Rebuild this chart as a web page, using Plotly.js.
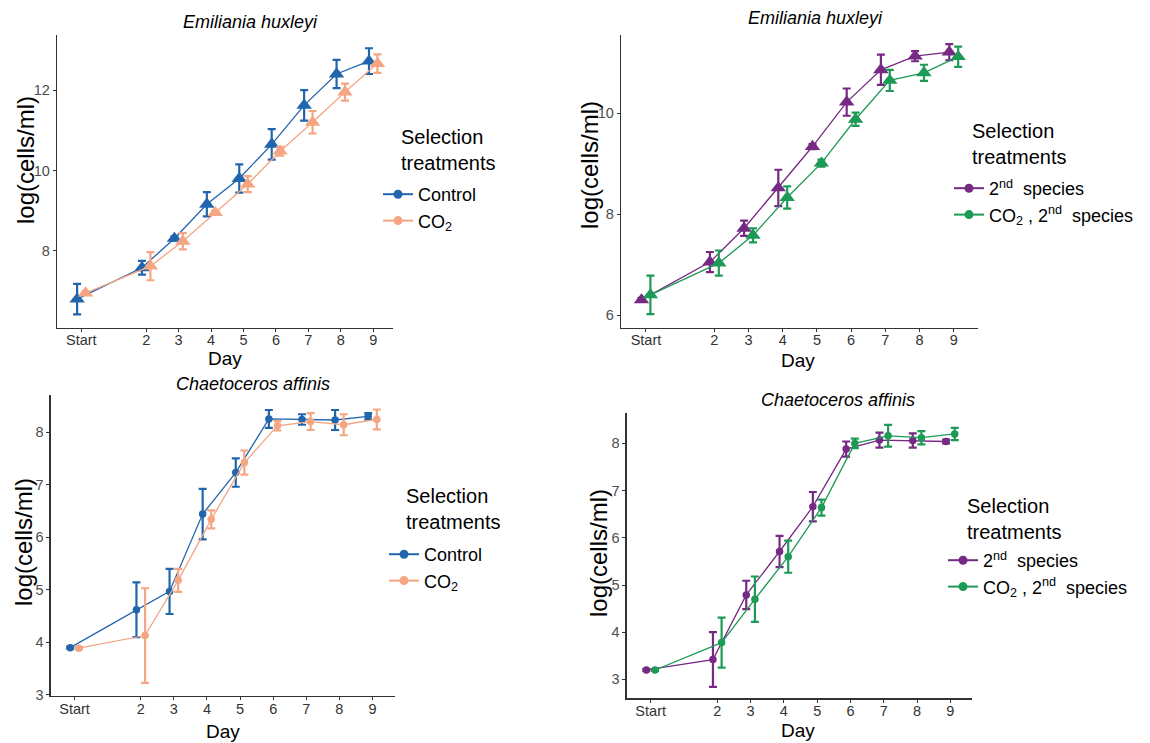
<!DOCTYPE html>
<html>
<head>
<meta charset="utf-8">
<script src="https://cdn.plot.ly/plotly-3.0.1.min.js"></script>
<style>html,body{margin:0;padding:0;background:#fff;}#chart{width:1150px;height:743px;}</style>
</head>
<body>
<div id="chart"></div>
<script>
// ---- data ----
const days = [0, 2, 3, 4, 5, 6, 7, 8, 9];
const dayTickText = ['Start', '2', '3', '4', '5', '6', '7', '8', '9'];

// Emiliania huxleyi, left panel
const ehControl    = [6.80, 7.58, 8.31, 9.16, 9.80, 10.65, 11.62, 12.40, 12.72];
const ehControlErr = [0.38, 0.17, 0.05, 0.30, 0.35, 0.38, 0.38, 0.35, 0.32];
const ehCO2        = [6.95, 7.62, 8.24, 8.95, 9.66, 10.48, 11.20, 11.95, 12.66];
const ehCO2Err     = [0.04, 0.35, 0.20, 0.05, 0.20, 0.11, 0.28, 0.21, 0.23];

// Emiliania huxleyi, right panel
const eh2nd        = [6.30, 7.05, 7.72, 8.52, 9.34, 10.22, 10.86, 11.13, 11.21];
const eh2ndErr     = [0.04, 0.20, 0.15, 0.36, 0.05, 0.27, 0.30, 0.10, 0.16];
const ehCO22nd     = [6.40, 7.03, 7.58, 8.33, 9.01, 9.88, 10.65, 10.80, 11.12];
const ehCO22ndErr  = [0.38, 0.25, 0.14, 0.22, 0.07, 0.13, 0.21, 0.16, 0.20];

// Chaetoceros affinis, left panel
const caControl    = [3.90, 4.62, 4.97, 6.44, 7.23, 8.25, 8.24, 8.23, 8.30];
const caControlErr = [0.02, 0.52, 0.43, 0.48, 0.27, 0.17, 0.10, 0.19, 0.06];
const caCO2        = [3.89, 4.13, 5.18, 6.34, 7.42, 8.12, 8.20, 8.14, 8.24];
const caCO2Err     = [0.02, 0.90, 0.22, 0.17, 0.23, 0.09, 0.16, 0.20, 0.19];

// Chaetoceros affinis, right panel
const ca2nd        = [3.20, 3.42, 4.79, 5.71, 6.66, 7.88, 8.07, 8.06, 8.04];
const ca2ndErr     = [0.02, 0.58, 0.30, 0.33, 0.31, 0.16, 0.16, 0.15, 0.04];
const caCO22nd     = [3.20, 3.78, 4.70, 5.60, 6.64, 8.00, 8.16, 8.12, 8.20];
const caCO22ndErr  = [0.02, 0.53, 0.48, 0.34, 0.17, 0.10, 0.23, 0.14, 0.13];

// ---- styling ----
const BLUE = '#2166AC', ORANGE = '#F4A582', PURPLE = '#762A83', GREEN = '#1d9a56';
const FONT = 'Liberation Sans, Arial, sans-serif';
const DODGE = 0.13;
const left = days.map(d => d - DODGE);
const right = days.map(d => d + DODGE);

function series(x, y, err, color, symbol, size, xa, ya) {
  return {
    type: 'scatter', mode: 'lines+markers', x: x, y: y,
    xaxis: xa, yaxis: ya, showlegend: false, hoverinfo: 'skip',
    line: {color: color, width: 1.3},
    marker: {color: color, symbol: symbol, size: size},
    error_y: {type: 'data', array: err, visible: true, color: color, thickness: 2.2, width: 4}
  };
}
function legendEntry(name, color, legend, group) {
  return {
    type: 'scatter', mode: 'lines+markers', x: [null], y: [null],
    xaxis: 'x', yaxis: 'y', name: name, legend: legend, legendgroup: group,
    line: {color: color, width: 2},
    marker: {color: color, symbol: 'circle', size: 9}
  };
}

const data = [
  series(left,  ehControl, ehControlErr, BLUE,   'triangle-up', 13.5, 'x',  'y'),
  series(right, ehCO2,     ehCO2Err,     ORANGE, 'triangle-up', 13.5, 'x',  'y'),
  series(left,  eh2nd,     eh2ndErr,     PURPLE, 'triangle-up', 13.5, 'x2', 'y2'),
  series(right, ehCO22nd,  ehCO22ndErr,  GREEN,  'triangle-up', 13.5, 'x2', 'y2'),
  series(left,  caControl, caControlErr, BLUE,   'circle', 7.5, 'x3', 'y3'),
  series(right, caCO2,     caCO2Err,     ORANGE, 'circle', 7.5, 'x3', 'y3'),
  series(left,  ca2nd,     ca2ndErr,     PURPLE, 'circle', 7.5, 'x4', 'y4'),
  series(right, caCO22nd,  caCO22ndErr,  GREEN,  'circle', 7.5, 'x4', 'y4'),
  legendEntry('Control', BLUE, 'legend', 'a1'),
  legendEntry('CO<sub>2</sub>', ORANGE, 'legend', 'a2'),
  legendEntry('2<sup>nd</sup>&nbsp; species', PURPLE, 'legend2', 'b1'),
  legendEntry('CO<sub>2</sub> , 2<sup>nd</sup>&nbsp; species', GREEN, 'legend2', 'b2'),
  legendEntry('Control', BLUE, 'legend3', 'c1'),
  legendEntry('CO<sub>2</sub>', ORANGE, 'legend3', 'c2'),
  legendEntry('2<sup>nd</sup>&nbsp; species', PURPLE, 'legend4', 'd1'),
  legendEntry('CO<sub>2</sub> , 2<sup>nd</sup>&nbsp; species', GREEN, 'legend4', 'd2')
];

const W = 1150, H = 743;
const px = v => v / W;
const py = v => 1 - v / H;

function xAxis(domain, range, anchor) {
  return {
    domain: domain, range: range, anchor: anchor,
    tickmode: 'array', tickvals: days, ticktext: dayTickText,
    showline: true, linecolor: '#333', linewidth: 1.3,
    ticks: 'outside', ticklen: 3, tickcolor: '#333', tickwidth: 1,
    ticklabelstandoff: -4,
    showgrid: false, zeroline: false,
    tickfont: {family: FONT, size: 14.5, color: '#333'}
  };
}
function yAxis(domain, range, dtick, anchor) {
  return {
    domain: domain, range: range, anchor: anchor, dtick: dtick, tick0: 0,
    showline: true, linecolor: '#333', linewidth: 1.3,
    ticks: 'outside', ticklen: 3, tickcolor: '#333', tickwidth: 1,
    showgrid: false, zeroline: false,
    tickfont: {family: FONT, size: 14.5, color: '#4d4d4d'}
  };
}
function legendBox(textLeft, firstCenter) {
  return {
    x: px(textLeft - 40), y: py(firstCenter - 18), xanchor: 'left', yanchor: 'top',
    bgcolor: 'rgba(0,0,0,0)', tracegroupgap: 2, traceorder: 'normal',
    font: {family: FONT, size: 18, color: '#000'}
  };
}
function note(text, x, y, size, italic, xanchor, angle) {
  return {
    text: italic ? '<i>' + text + '</i>' : text, xref: 'paper', yref: 'paper',
    x: px(x), y: py(y), xanchor: xanchor, yanchor: 'middle', showarrow: false,
    align: 'left', textangle: angle || 0, font: {family: FONT, size: size, color: '#000'}
  };
}

const layout = {
  width: W, height: H, autosize: false,
  margin: {l: 0, r: 0, t: 0, b: 0},
  paper_bgcolor: '#fff', plot_bgcolor: '#fff',
  font: {family: FONT},
  xaxis:  xAxis([px(57), px(393)],    [-0.75, 9.61], 'y'),
  yaxis:  yAxis([py(327.7), py(35)],  [6.09, 13.37], 2, 'x'),
  xaxis2: xAxis([px(621), px(978)],   [-0.73, 9.71], 'y2'),
  yaxis2: yAxis([py(327.7), py(35)],  [5.75, 11.55], 2, 'x2'),
  xaxis3: xAxis([px(50.7), px(395)],  [-0.72, 9.68], 'y3'),
  yaxis3: yAxis([py(696), py(395.3)], [2.98, 8.70], 1, 'x3'),
  xaxis4: xAxis([px(626.7), px(971.7)], [-0.72, 9.64], 'y4'),
  yaxis4: yAxis([py(698.3), py(412.7)], [2.60, 8.65], 1, 'x4'),
  legend:  legendBox(418, 194),
  legend2: legendBox(989, 188),
  legend3: legendBox(424, 554),
  legend4: legendBox(983, 560),
  annotations: [
    note('Emiliania huxleyi', 250, 22, 18, true, 'center'),
    note('Emiliania huxleyi', 815, 18, 18, true, 'center'),
    note('Chaetoceros affinis', 253, 384, 18, true, 'center'),
    note('Chaetoceros affinis', 838, 400, 18, true, 'center'),
    note('Selection<br>treatments', 399, 150, 20, false, 'left'),
    note('Selection<br>treatments', 970, 144, 20, false, 'left'),
    note('Selection<br>treatments', 404, 509, 20, false, 'left'),
    note('Selection<br>treatments', 965, 519, 20, false, 'left'),
    note('Day', 225, 358, 19, false, 'center'),
    note('Day', 798, 360, 19, false, 'center'),
    note('Day', 223, 731, 19, false, 'center'),
    note('Day', 798, 730, 19, false, 'center'),
    note('log(cells/ml)', 25, 160, 24, false, 'center', -90),
    note('log(cells/ml)', 589, 165, 24, false, 'center', -90),
    note('log(cells/ml)', 23, 542, 24, false, 'center', -90),
    note('log(cells/ml)', 598, 553, 24, false, 'center', -90)
  ]
};

Plotly.newPlot('chart', data, layout, {displayModeBar: false, staticPlot: true});
</script>
</body>
</html>
